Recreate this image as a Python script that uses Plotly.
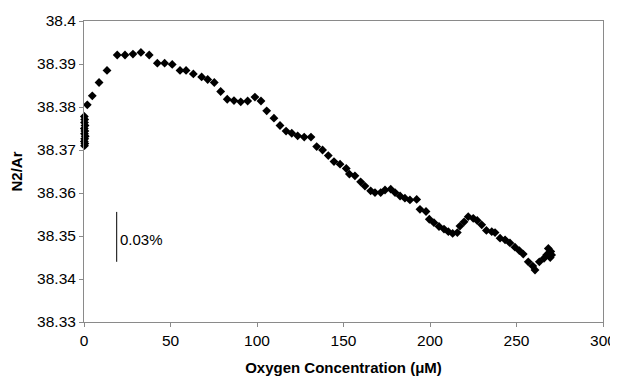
import plotly.graph_objects as go

# Oxygen concentration (µM)
oxygen = [0.2, 0.4, 0.3, 0.6, 0.2, 0.5, 0.3, 0.7, 0.4, 0.2, 0.5, 0.3,
          1.9, 4.8, 8.7, 13.3, 19.2, 23.7, 28.3, 32.9, 37.7, 42.4, 46.6, 51.0,
          55.5, 59.0, 63.2, 68.0, 71.5, 75.3, 79.0, 82.8, 86.7, 90.6, 94.6,
          98.8, 102.3, 105.6, 109.8, 113.3, 116.8, 120.1, 123.5, 127.3, 131.2,
          134.5, 137.9, 141.2, 144.5, 148.0, 151.6, 153.4, 156.6, 159.9, 162.4,
          165.7, 168.2, 171.5, 174.0, 177.3, 179.8, 182.7, 185.5, 188.4, 192.3,
          194.2, 197.7, 199.6, 202.3, 205.2, 208.1, 210.6, 213.1, 215.8, 217.3,
          219.7, 222.1, 225.0, 227.3, 229.9, 232.6, 235.7, 237.6, 240.5, 243.4,
          246.2, 249.1, 251.6, 253.9, 256.8, 259.4, 260.7, 263.2, 265.9, 267.4,
          268.4, 269.8, 270.3, 268.8, 269.5]

# N2/Ar ratio
n2ar = [38.3778, 38.3771, 38.3764, 38.3757, 38.3750, 38.3744, 38.3738, 38.3732,
        38.3726, 38.3720, 38.3715, 38.3710,
        38.3805, 38.3826, 38.3857, 38.3885, 38.3921, 38.3921, 38.3923, 38.3927,
        38.3921, 38.3902, 38.3902, 38.3899, 38.3885, 38.3885, 38.3877, 38.3870,
        38.3864, 38.3857, 38.3836, 38.3818, 38.3815, 38.3812, 38.3814, 38.3823,
        38.3814, 38.3791, 38.3774, 38.3757, 38.3744, 38.3739, 38.3733, 38.3730,
        38.3730, 38.3708, 38.3700, 38.3687, 38.3673, 38.3667, 38.3657, 38.3644,
        38.3640, 38.3626, 38.3616, 38.3605, 38.3601, 38.3601, 38.3607, 38.3609,
        38.3601, 38.3593, 38.3588, 38.3584, 38.3585, 38.3562, 38.3557, 38.3539,
        38.3531, 38.3522, 38.3516, 38.3510, 38.3506, 38.3508, 38.3523, 38.3533,
        38.3545, 38.3541, 38.3536, 38.3526, 38.3513, 38.3510, 38.3508, 38.3495,
        38.3491, 38.3484, 38.3474, 38.3466, 38.3458, 38.3440, 38.3430, 38.3421,
        38.3440, 38.3448, 38.3456, 38.3471, 38.3464, 38.3456, 38.3460, 38.3450]

x_ticks = [0, 50, 100, 150, 200, 250, 300]
y_ticks = [38.33, 38.34, 38.35, 38.36, 38.37, 38.38, 38.39, 38.4]
y_tick_labels = ["38.33", "38.34", "38.35", "38.36", "38.37", "38.38", "38.39", "38.4"]

# scale bar: 0.03 % of the ratio
bar_x = 18.9
bar_top = 38.3556
bar_bottom = 38.3440
bar_label = "0.03%"

FONT = "Liberation Sans, Arial, sans-serif"
AXIS_COLOR = "#8a8a8a"

fig = go.Figure()
fig.add_trace(go.Scatter(
    x=oxygen, y=n2ar, mode="markers",
    marker=dict(symbol="diamond", size=6.8, color="black", line=dict(width=0)),
    showlegend=False, cliponaxis=False,
))

fig.add_shape(type="line", xref="x", yref="y",
              x0=bar_x, x1=bar_x, y0=bar_bottom, y1=bar_top,
              line=dict(color="black", width=1))
fig.add_annotation(x=bar_x, y=(bar_top + bar_bottom) / 2, yshift=-3, xref="x", yref="y",
                   text=bar_label, showarrow=False, xanchor="left", xshift=1,
                   font=dict(family=FONT, size=15, color="black"))

# the page body adds an 8 px offset, so the figure is 8 px smaller
fig.update_layout(
    width=610, height=371,
    margin=dict(l=76, r=15, t=13, b=57),
    paper_bgcolor="white", plot_bgcolor="white",
    font=dict(family=FONT, size=15.5, color="black"),
    xaxis=dict(
        range=[0, 300], tickvals=x_ticks, ticks="outside", ticklen=4,
        tickcolor=AXIS_COLOR, showline=True, linecolor=AXIS_COLOR, linewidth=1,
        mirror=True, showgrid=False, zeroline=False, automargin=False,
        tickfont=dict(family=FONT, size=15.5),
        title=dict(text="<b>Oxygen Concentration (\u03bcM)</b>",
                   font=dict(family=FONT, size=15), standoff=14),
    ),
    yaxis=dict(
        range=[38.33, 38.4], tickvals=y_ticks, ticktext=y_tick_labels,
        ticks="outside", ticklen=4, tickcolor=AXIS_COLOR,
        showline=True, linecolor=AXIS_COLOR, linewidth=1, mirror=True,
        showgrid=False, zeroline=False, automargin=False,
        tickfont=dict(family=FONT, size=15.5),
        title=dict(text="<b>N2/Ar</b>", font=dict(family=FONT, size=15), standoff=12),
    ),
)

fig.write_html("out.html")
